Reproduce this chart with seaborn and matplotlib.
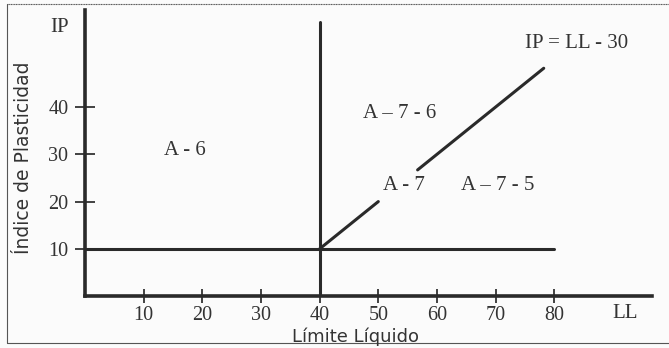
import numpy as np
import pandas as pd
import matplotlib
matplotlib.use("Agg")
import matplotlib.pyplot as plt
import seaborn as sns
from matplotlib.lines import Line2D

sns.set_style("white")
plt.rcParams['font.family'] = ['Liberation Serif', 'DejaVu Serif']

# Data
x_ticks = [10, 20, 30, 40, 50, 60, 70, 80]
y_ticks = [10, 20, 30, 40]
# boundary lines (LL, IP) per segment
seg_names = ["vertical", "vertical", "horizontal", "horizontal", "diag1", "diag1", "diag2", "diag2"]
seg_ll = [40, 40, 0, 80, 40, 50, 56.7, 78.2]
seg_ip = [0, 58, 10, 10, 10, 20, 26.7, 48.2]
region_labels = ["A - 6", "A – 7 - 6", "A - 7", "A – 7 - 5", "IP = LL - 30"]
region_ll = [17, 53.6, 54.3, 70.3, 83.8]
region_ip = [30.7, 38.7, 23.3, 23.3, 53.5]

df = pd.DataFrame({"seg": seg_names, "LL": seg_ll, "IP": seg_ip})

fig = plt.figure(figsize=(6.69, 3.48), dpi=100)
fig.patch.set_facecolor("#fbfbfb")
ax = fig.add_axes([0.127, 0.149, 0.848, 0.822])
ax.set_facecolor("#fbfbfb")

for name in df["seg"].unique():
    sub = df[df["seg"] == name]
    sns.lineplot(data=sub, x="LL", y="IP", ax=ax, color="#2a2a2a", lw=2.2,
                 estimator=None, sort=False, legend=False)

ax.set_xlim(0, 96.7)
ax.set_ylim(0, 60.5)
ax.set_xticks(x_ticks)
ax.set_yticks(y_ticks)
ax.set_xticklabels([str(v) for v in x_ticks], fontsize=14.5, color="#333333")
ax.set_yticklabels([str(v) for v in y_ticks], fontsize=14.5, color="#333333")
ax.tick_params(axis="x", direction="inout", length=10, width=1.3, color="#333333", pad=2, bottom=True)
ax.tick_params(axis="y", direction="inout", length=14, width=1.3, color="#333333", pad=5, left=True)

for s in ["top", "right"]:
    ax.spines[s].set_visible(False)
for s in ["left", "bottom"]:
    ax.spines[s].set_linewidth(2.6)
    ax.spines[s].set_color("#2a2a2a")

ax.set_xlabel("")
ax.set_ylabel("")

for lab, lx, ly in zip(region_labels, region_ll, region_ip):
    ax.text(lx, ly, lab, fontsize=15, ha="center", va="center", color="#333333")

ax.text(-4.3, 56.9, "IP", fontsize=15, ha="center", va="center", color="#333333")
ax.text(92, -3.6, "LL", fontsize=15, ha="center", va="center", color="#333333")

fig.text(356/669, 1 - 337/348, "Límite Líquido", fontsize=13, ha="center", va="center",
         family=["DejaVu Sans"], color="#333333")
fig.text(24/669, 1 - 158/348, "Índice de Plasticidad", fontsize=13.5, ha="center", va="center",
         rotation=90, family=["DejaVu Sans"], color="#333333")

# scanned frame
fig.add_artist(Line2D([7/669, 7/669], [1 - 4/348, 1 - 343/348], transform=fig.transFigure, color="#555555", lw=0.8))
fig.add_artist(Line2D([7/669, 1], [1 - 4/348, 1 - 4/348], transform=fig.transFigure, color="#555555", lw=0.8, ls=(0, (1, 0.5))))
fig.add_artist(Line2D([7/669, 1], [1 - 343/348, 1 - 343/348], transform=fig.transFigure, color="#555555", lw=0.8))

fig.savefig("out.png", dpi=100, facecolor=fig.get_facecolor())
